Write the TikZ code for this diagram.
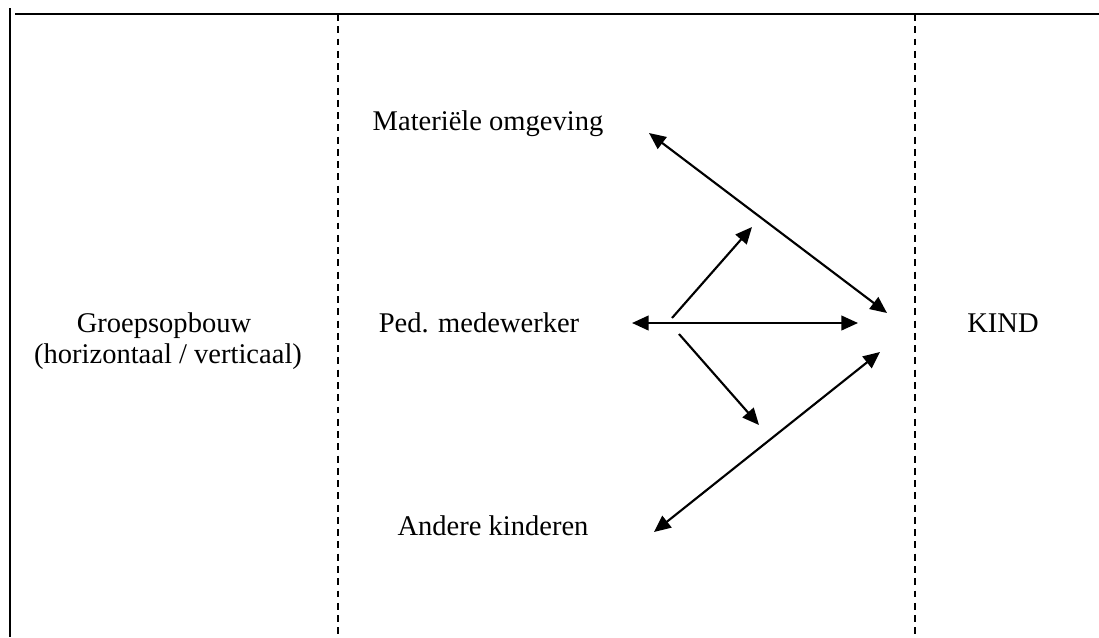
\documentclass[tikz,border=0pt]{standalone}
\usepackage{fontspec}
\setmainfont{Liberation Serif}
\usetikzlibrary{arrows.meta}
\tikzset{
  lbl/.style={inner sep=0pt, anchor=base, font=\fontsize{21.4}{23.3}\selectfont},
  frameline/.style={line width=1.6pt},
  divider/.style={line width=1.6pt, dash pattern=on 5.2pt off 4pt},
  conn/.style={line width=1.6pt, -{Triangle[length=12.5pt,width=11pt]}},
  dconn/.style={line width=1.6pt, {Triangle[length=12.5pt,width=11pt]}-{Triangle[length=12.5pt,width=11pt]}}
}
\begin{document}
\begin{tikzpicture}[x=0.75pt,y=-0.75pt]
\useasboundingbox (0,0) rectangle (1099,637);
% frame and dividers
\draw[frameline] (10,8) -- (10,637);
\draw[frameline] (15,14) -- (1099,14);
\draw[divider] (338,14) -- (338,637);
\draw[divider] (915,14) -- (915,637);
% labels
\node[lbl] (grp1) at (164,332) {Groepsopbouw};
\node[lbl] (grp2) at (168,363) {(horizontaal / verticaal)};
\node[lbl] (mat) at (488,130) {Materiële omgeving};
\node[lbl] (ped) at (479,332) {Ped. medewerker};
\node[lbl] (and) at (493,535) {Andere kinderen};
\node[lbl] (kind) at (1003,332) {KIND};
% arrow end points
\coordinate (m1) at (649,133);
\coordinate (k1) at (887,313);
\coordinate (p0) at (672,318);
\coordinate (m2) at (752,227);
\coordinate (p1) at (632,323);
\coordinate (k2) at (858,323);
\coordinate (p2) at (679,334);
\coordinate (a2) at (759,425);
\coordinate (a1) at (654,532);
\coordinate (k3) at (880,352);
% arrows
\draw[dconn] (m1) -- (k1);
\draw[conn] (p0) -- (m2);
\draw[dconn] (p1) -- (k2);
\draw[conn] (p2) -- (a2);
\draw[dconn] (a1) -- (k3);
\end{tikzpicture}
\end{document}
